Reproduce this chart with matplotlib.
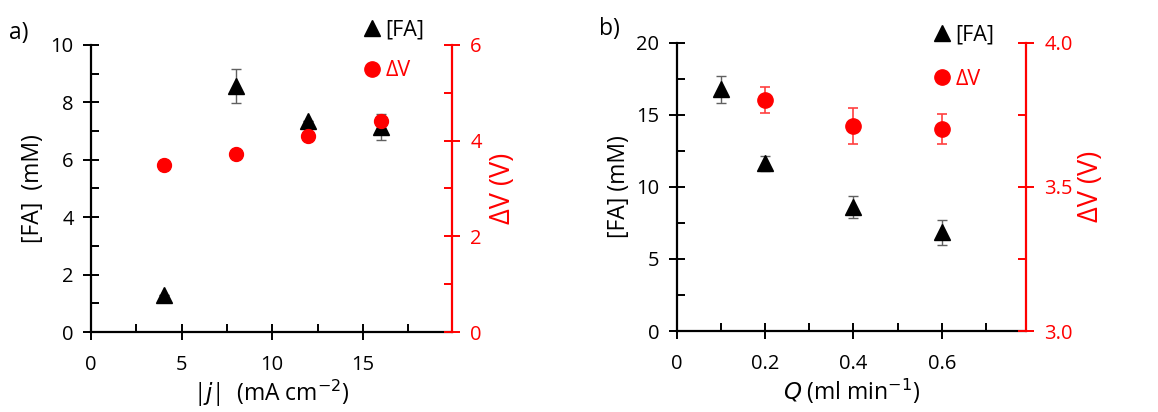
import matplotlib
matplotlib.use("Agg")
import matplotlib.pyplot as plt
from matplotlib.ticker import MultipleLocator, FormatStrFormatter
from matplotlib.lines import Line2D

plt.rcParams['font.family'] = ['Open Sans', 'DejaVu Sans']

# Panel a data
j_vals = [4, 8, 12, 16]
fa_a = [1.28, 8.57, 7.36, 7.15]
fa_a_err = [0.0, 0.6, 0.0, 0.45]
dv_a = [3.50, 3.72, 4.09, 4.41]

# Panel b data
q_vals = [0.1, 0.2, 0.4, 0.6]
fa_b = [16.76, 11.63, 8.62, 6.84]
fa_b_err = [0.95, 0.5, 0.75, 0.85]
q_dv = [0.2, 0.4, 0.6]
dv_b = [3.80, 3.712, 3.70]
dv_b_err = [0.045, 0.062, 0.052]

RED = '#ff0000'
GREY = '#606060'
FS = 14.5
LFS = 16.5

fig = plt.figure(figsize=(11.58, 4.12), dpi=100)


def style_axes(ax, ax2):
    for s in ['top', 'right']:
        ax.spines[s].set_visible(False)
    for s in ['top', 'left', 'bottom']:
        ax2.spines[s].set_visible(False)
    ax.spines['left'].set_linewidth(1.6)
    ax.spines['bottom'].set_linewidth(1.6)
    ax2.spines['right'].set_linewidth(1.6)
    ax2.spines['right'].set_color(RED)
    ax.tick_params(axis='both', which='major', direction='inout', length=11, width=1.4,
                   labelsize=FS, pad=7)
    ax.tick_params(axis='both', which='minor', direction='in', length=5.5, width=1.4)
    ax.tick_params(axis='x', which='major', pad=11)
    ax2.tick_params(axis='y', which='major', direction='inout', length=11, width=1.4,
                    colors=RED, labelsize=FS, pad=8)
    ax2.tick_params(axis='y', which='minor', direction='in', length=5.5, width=1.4, colors=RED)


def add_legend(anchor_fa, anchor_dv):
    h_fa = Line2D([], [], linestyle='none', marker='^', color='black', markersize=12)
    h_dv = Line2D([], [], linestyle='none', marker='o', color=RED, markersize=11)
    for h, lab, anc, col in [(h_fa, '[FA]', anchor_fa, 'black'), (h_dv, 'ΔV', anchor_dv, RED)]:
        leg = fig.legend([h], [lab], loc='center left', bbox_to_anchor=anc,
                         frameon=False, fontsize=LFS - 1, handletextpad=0.0,
                         handlelength=1.2, borderpad=0, borderaxespad=0)
        leg.get_texts()[0].set_color(col)


# ---------- Panel a ----------
ax1 = fig.add_axes([0.0786, 0.194, 0.3114, 0.697])
ax1b = ax1.twinx()
ax1.set_xlim(0, 19.9)
ax1.set_ylim(0, 10)
ax1b.set_ylim(0, 6)
ax1.xaxis.set_major_locator(MultipleLocator(5))
ax1.xaxis.set_minor_locator(MultipleLocator(2.5))
ax1.yaxis.set_major_locator(MultipleLocator(2))
ax1.yaxis.set_minor_locator(MultipleLocator(1))
ax1b.yaxis.set_major_locator(MultipleLocator(2))
ax1b.yaxis.set_minor_locator(MultipleLocator(1))
style_axes(ax1, ax1b)

ax1.errorbar(j_vals, fa_a, yerr=fa_a_err, fmt='none', ecolor=GREY, elinewidth=1.0,
             capsize=3.5, capthick=1.0, zorder=2)
ax1.plot(j_vals, fa_a, linestyle='none', marker='^', color='black', markersize=12, zorder=3)
ax1b.plot(j_vals, dv_a, linestyle='none', marker='o', color=RED, markersize=10, zorder=3)

ax1.set_xlabel(r'|$j$|  (mA cm$^{-2}$)', fontsize=LFS, labelpad=2)
ax1.set_ylabel('[FA]  (mM)', fontsize=LFS, labelpad=4)
ax1b.set_ylabel('ΔV (V)', fontsize=LFS + 3, color=RED, labelpad=5)
fig.text(0.008, 0.905, 'a)', fontsize=LFS)

# ---------- Panel b ----------
ax2 = fig.add_axes([0.5844, 0.1966, 0.3013, 0.6998])
ax2b = ax2.twinx()
ax2.set_xlim(0, 0.79)
ax2.set_ylim(0, 20)
ax2b.set_ylim(3.0, 4.0)
ax2.xaxis.set_major_locator(MultipleLocator(0.2))
ax2.xaxis.set_minor_locator(MultipleLocator(0.1))
ax2.xaxis.set_major_formatter(FormatStrFormatter('%g'))
ax2.yaxis.set_major_locator(MultipleLocator(5))
ax2.yaxis.set_minor_locator(MultipleLocator(2.5))
ax2b.yaxis.set_major_locator(MultipleLocator(0.5))
ax2b.yaxis.set_minor_locator(MultipleLocator(0.25))
ax2b.yaxis.set_major_formatter(FormatStrFormatter('%.1f'))
style_axes(ax2, ax2b)

ax2.errorbar(q_vals, fa_b, yerr=fa_b_err, fmt='none', ecolor=GREY, elinewidth=1.0,
             capsize=3.5, capthick=1.0, zorder=2)
ax2.plot(q_vals, fa_b, linestyle='none', marker='^', color='black', markersize=12, zorder=3)
ax2b.errorbar(q_dv, dv_b, yerr=dv_b_err, fmt='none', ecolor='#ff4040', elinewidth=1.2,
              capsize=3.5, capthick=1.2, zorder=2)
ax2b.plot(q_dv, dv_b, linestyle='none', marker='o', color=RED, markersize=11, zorder=3)

ax2.set_xlabel(r'$Q$ (ml min$^{-1}$)', fontsize=LFS, labelpad=2)
ax2.set_ylabel('[FA] (mM)', fontsize=LFS, labelpad=4)
ax2b.set_ylabel('ΔV (V)', fontsize=LFS + 3, color=RED, labelpad=3)
fig.text(0.517, 0.915, 'b)', fontsize=LFS)

# Legends (positions in figure fraction)
add_legend((0.3105, 0.928), (0.3105, 0.828))
add_legend((0.8025, 0.915), (0.8025, 0.808))

fig.savefig('out.png', dpi=100)
